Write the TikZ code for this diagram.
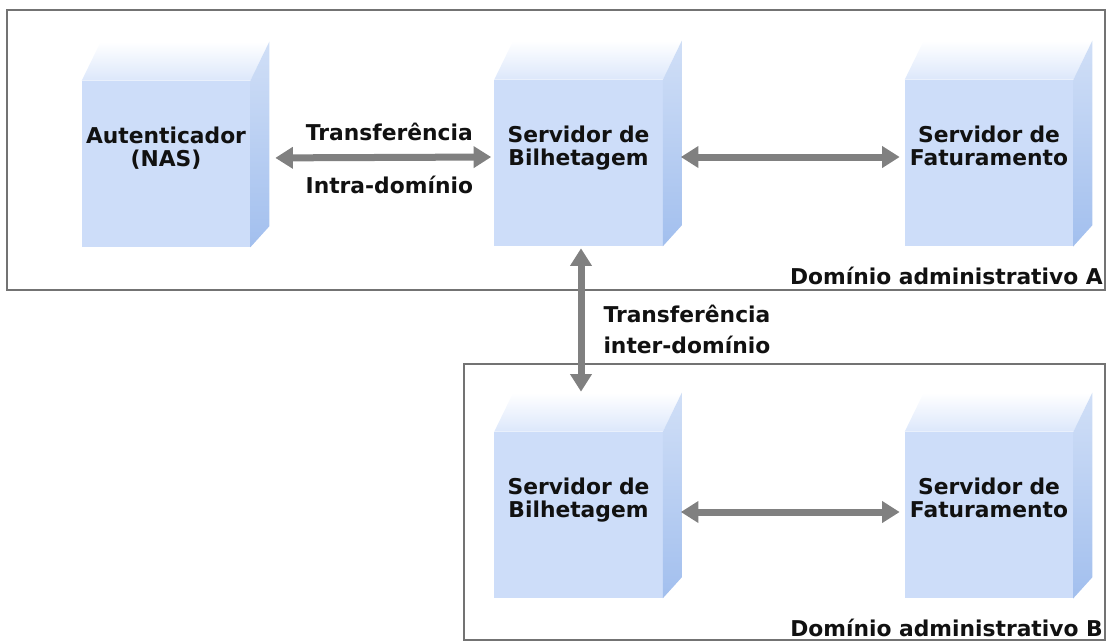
\documentclass[tikz,border=0pt]{standalone}
\usepackage{fontspec}
\setmainfont{DejaVu Sans}
\usetikzlibrary{arrows.meta, positioning, calc}

\definecolor{cubefront}{RGB}{205, 221, 249}
\definecolor{cubeside}{RGB}{162, 191, 238}
\definecolor{linkgray}{RGB}{128, 128, 128}
\definecolor{framegray}{RGB}{115, 115, 115}
\definecolor{textblack}{RGB}{17, 17, 17}

\tikzset{
  server/.style={fill=cubefront, inner sep=0pt, minimum width=4.2cm, minimum height=4.15cm,
    text width=4.2cm, align=center, text height=1.55cm, text depth=2.6cm,
    font=\fontsize{15.5pt}{17pt}\selectfont\bfseries, text=textblack},
  link/.style={draw=linkgray, line width=0.175cm,
    {Triangle[width=0.52cm,length=0.44cm]}-{Triangle[width=0.52cm,length=0.44cm]}},
  domainbox/.style={draw=framegray, line width=0.05cm},
  caption/.style={inner sep=0pt, font=\fontsize{15.5pt}{17pt}\selectfont\bfseries, text=textblack}
}

\begin{document}
\begin{tikzpicture}[x=0.025cm, y=-0.025cm]
  \useasboundingbox (0,0) rectangle (1109,641);

  % Administrative domains
  \draw[domainbox] (7,10) rectangle (1105,290);
  \draw[domainbox] (464,364) rectangle (1105,640);

  % Servers (front faces)
  \node[server] (autA) at (166,164) {Autenticador\\(NAS)};
  \node[server] (bilA) at (578.5,163) {Servidor de\\Bilhetagem};
  \node[server] (fatA) at (989,163) {Servidor de\\Faturamento};
  \node[server] (bilB) at (578.5,515) {Servidor de\\Bilhetagem};
  \node[server] (fatB) at (989,515) {Servidor de\\Faturamento};

  % Top and side faces
  \foreach \n in {autA, bilA, fatA, bilB, fatB} {
    \shade[top color=white, bottom color=cubefront!70] (\n.north west) -- ++(19,-39)
      -- ([shift={(19,-39)}]\n.north east) -- (\n.north east) -- cycle;
    \shade[top color=cubeside!50, bottom color=cubeside] (\n.north east) -- ++(19,-39)
      -- ([shift={(19,-21)}]\n.south east) -- (\n.south east) -- cycle;
  }

  % Transfers
  \draw[link, shorten <=0.625cm, shorten >=0.075cm] ([yshift=0.15cm]autA.east)
    -- node[caption, pos=0.57, above=0.32cm] (intraTop) {Transferência}
       node[caption, pos=0.57, below=0.37cm] (intraBot) {Intra-domínio}
    ([yshift=0.15cm]bilA.west);
  \draw[link, shorten <=0.45cm, shorten >=0.125cm] ([yshift=0.15cm]bilA.east) -- ([yshift=0.15cm]fatA.west);
  \draw[link, shorten <=0.05cm, shorten >=1cm] ([xshift=0.0625cm]bilA.south)
    -- node[caption, pos=0.45, right=0.475cm, align=left,
            font=\fontsize{15.5pt}{22pt}\selectfont\bfseries] (interLbl) {Transferência\\inter-domínio}
    ([xshift=0.0625cm]bilB.north);
  \draw[link, shorten <=0.45cm, shorten >=0.125cm] ([yshift=0.075cm]bilB.east) -- ([yshift=0.075cm]fatB.west);

  % Domain labels
  \node[caption, anchor=south east] (domAlbl) at (1103,285) {Domínio administrativo A};
  \node[caption, anchor=south east] (domBlbl) at (1103,637) {Domínio administrativo B};
\end{tikzpicture}
\end{document}
